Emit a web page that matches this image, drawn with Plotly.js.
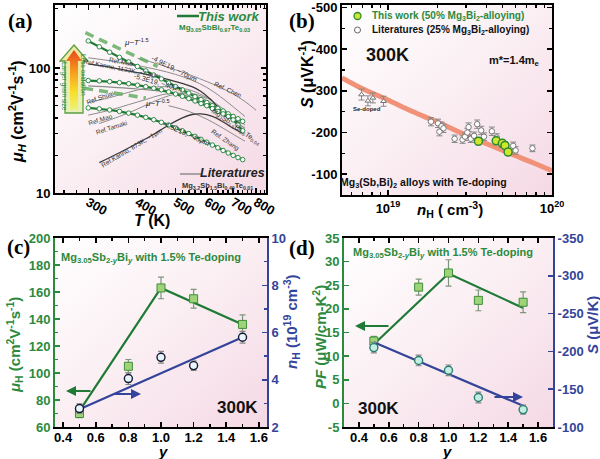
<!DOCTYPE html>
<html>
<head>
<meta charset="utf-8">
<script src="https://cdn.plot.ly/plotly-3.0.1.min.js"></script>
<style>
html,body{margin:0;padding:0;background:#fff;}
#chart{width:600px;height:459px;}
</style>
</head>
<body>
<div id="chart"></div>
<script>
// ---------------- Panel (a): mu_H vs T ----------------
const a_T = [300,320,340,360,380,400,420,440,460,480,500,520,540,560,580,600,620,640,660,680,700,720,740];
const a_mu_49E19 = [165,148,134,122,112,103,95,88,82,76,71,67,63,59,56,53,50,47.6,45.3,43,41,39.3,37.5];
const a_mu_53E19 = [79.5,79,78,76.5,75,73,71,69,67,64.5,62,59.5,57,54.5,52,50,47.5,45,43,41,38.5,35,31.5];
const a_mu_45E19 = [48,47.2,46.2,45,43.6,42,40.3,38.6,36.8,35,33.2,31.5,29.9,28.4,26.9,25.5,24.2,23,21.9,20.9,20,19.2,18.5];

const a_dash15_T = [295,450];
const a_dash15_mu = [192,103];
const a_dash05_T = [293,420];
const a_dash05_mu = [69,57.6];

const lit_mao1_T = [300,350,400,450,500,550,600,650,700,750];
const lit_mao1_mu = [121,113,105,97,89,80,70,59,49,41];
const lit_chen_T = [400,450,500,550,600,650,700,750,800];
const lit_chen_mu = [120,108,97,87,78,70,62,54,46];
const lit_kanno1123_T = [300,350,400,450,500,550,580,610,640,670,700,730];
const lit_kanno1123_mu = [108,100,92,85,78,71,65,57,49,43,39,36];
const lit_shuai_T = [300,340,380,420,460,500,550,600,650,700,750];
const lit_shuai_mu = [53,58,64,69,71,70,66,58,49,41,35];
const lit_mao2_T = [300,340,380,420,460,500,550,600,650,700];
const lit_mao2_mu = [42,46,51,56,61,63,61,55,47,39];
const lit_tamaki_T = [320,360,400,440,480,520,560,600];
const lit_tamaki_mu = [36,41,47,54,60,63,62,57];
const lit_kanno873_T = [320,360,400,440,480,520,550,580,620,660,700,740];
const lit_kanno873_mu = [17.5,21,25,29.5,35,40,42.5,43,41,37,33,30];
const lit_zhang_T = [480,540,600,660,720,750];
const lit_zhang_mu = [50,45,39,33,28,26];
const lit_mg32_T = [300,400,500,550,600,650,700,750];
const lit_mg32_mu = [72,68,63,58,52,45,38,33];

// ---------------- Panel (b): S vs n_H ----------------
const b_curve_n = [5.25e18,7e18,1e19,1.4e19,2e19,2.8e19,4e19,5.6e19,7.6e19,1e20];
const b_curve_S = [-331,-305,-278,-251,-225,-199,-173,-149,-128,-108];
const b_lit_n = [1.83e19,2.02e19,2.06e19,2.12e19,2.18e19,2.55e19,2.85e19,2.95e19,3.05e19,3.1e19,3.2e19,3.35e19,3.5e19,3.7e19,3.85e19,4.3e19,4.6e19,5.8e19,6.0e19,7.6e19];
const b_lit_S = [-226,-222,-202,-215,-210,-185,-183,-190,-200,-213,-185,-192,-220,-205,-190,-203,-188,-168,-157,-162];
const b_lit_err = [10,10,10,10,10,9,9,9,10,10,9,9,10,10,9,10,9,9,9,8];
const b_se_n = [6.9e18,7.55e18,8.1e18,9.4e18];
const b_se_S = [-291,-276,-283,-275];
const b_se_err = [13,12,12,12];
const b_tw_n = [3.56e19,4.57e19,4.98e19,5.17e19,5.4e19];
const b_tw_S = [-179,-180,-174,-169,-153];
const b_tw_err = [9,9,9,9,8];

// ---------------- Panels (c),(d): vs Bi content y ----------------
const y_bi = [0.5,0.8,1.0,1.2,1.5];
const c_mu = [70,105,163,155,136];
const c_mu_err = [3,5,8,7,7];
const c_nH = [2.78,4.05,4.95,4.6,5.8];
const c_nH_err = [0.2,0.25,0.25,0.2,0.25];
const c_mu_fit_y = [0.5,1.0,1.5];
const c_mu_fit = [72,163,136];
const c_nH_fit_y = [0.5,1.5];
const c_nH_fit = [2.75,5.8];

const d_PF = [13.2,24.6,27.6,21.8,21.4];
const d_PF_err = [1,1.7,2.8,2.2,2.2];
const d_S = [-205,-188,-175,-139,-123];
const d_S_err = [7,7,7,7,6];
const d_PF_fit_y = [0.5,1.0,1.5];
const d_PF_fit = [12.5,27.5,20.2];
const d_S_fit_y = [0.5,1.5];
const d_S_fit = [-212,-128];

// tick labels
const a_xticks = [300,400,500,600,700,800];
const a_yticks = [10,100];
const b_yticks = [-500,-400,-300,-200,-100];
const c_xticks = [0.4,0.6,0.8,1.0,1.2,1.4,1.6];
const c_yticks = [60,80,100,120,140,160,180,200];
const c_y2ticks = [2,4,6,8,10];
const d_yticks = [-5,0,5,10,15,20,25,30,35];
const d_y2ticks = [-100,-150,-200,-250,-300,-350];

// ---------------- styling ----------------
const FONT = 'Liberation Sans, Arial, sans-serif';
const SERIF = 'Liberation Serif, Times New Roman, serif';
const GREEN = '#1f7a35';
const GTXT = '#2b8a3e';
const BLUE = '#34449a';
const W = 600, H = 459;
const PX = p => p / W;
const PY = p => 1 - p / H;

const traces = [];
function litLine(T, mu, color, width) {
  traces.push({x: T, y: mu, xaxis: 'x', yaxis: 'y', mode: 'lines', line: {color: color, width: width, shape: 'spline'}, hoverinfo: 'skip'});
}
litLine(lit_mao1_T, lit_mao1_mu, '#8c8c8c', 1);
litLine(lit_chen_T, lit_chen_mu, '#8c8c8c', 1);
litLine(lit_shuai_T, lit_shuai_mu, '#8c8c8c', 1);
litLine(lit_mao2_T, lit_mao2_mu, '#8c8c8c', 1);
litLine(lit_tamaki_T, lit_tamaki_mu, '#8c8c8c', 1);
litLine(lit_zhang_T, lit_zhang_mu, '#8c8c8c', 1);
litLine(lit_mg32_T, lit_mg32_mu, '#8c8c8c', 1.2);
litLine(lit_kanno1123_T, lit_kanno1123_mu, '#3a3a3a', 1.3);
litLine(lit_kanno873_T, lit_kanno873_mu, '#3a3a3a', 1.3);

traces.push({x: a_dash15_T, y: a_dash15_mu, xaxis:'x', yaxis:'y', mode:'lines', line:{color:'rgba(90,170,90,0.8)', width:3.5, dash:'9px,6px'}});
traces.push({x: a_dash05_T, y: a_dash05_mu, xaxis:'x', yaxis:'y', mode:'lines', line:{color:'rgba(90,170,90,0.8)', width:3.5, dash:'9px,6px'}});

[a_mu_49E19, a_mu_53E19, a_mu_45E19].forEach(mu => {
  traces.push({x: a_T, y: mu, xaxis:'x', yaxis:'y', mode:'lines+markers',
    line:{color: GREEN, width: 2.2},
    marker:{symbol:'circle', size:4.5, color:'#ffffff', line:{color:'#2e8b45', width:1}}});
});

// panel b
traces.push({x: b_curve_n, y: b_curve_S, xaxis:'x2', yaxis:'y2', mode:'lines', line:{color:'rgb(240,145,120)', width:5, shape:'spline'}});
traces.push({x: b_se_n, y: b_se_S, xaxis:'x2', yaxis:'y2', mode:'markers',
  marker:{symbol:'triangle-up', size:5, color:'#ffffff', line:{color:'#777', width:1}},
  error_y:{type:'data', array:b_se_err, color:'#888', thickness:1, width:3}});
traces.push({x: b_lit_n, y: b_lit_S, xaxis:'x2', yaxis:'y2', mode:'markers',
  marker:{symbol:'circle', size:5.5, color:'#ffffff', line:{color:'#777', width:1}},
  error_y:{type:'data', array:b_lit_err, color:'#888', thickness:1, width:3}});
traces.push({x: b_tw_n, y: b_tw_S, xaxis:'x2', yaxis:'y2', mode:'markers',
  marker:{symbol:'circle', size:8, color:'#cde62e', line:{color:'#2f8a2f', width:1.5}},
  error_y:{type:'data', array:b_tw_err, color:'#888', thickness:1, width:3}});

// panel c
traces.push({x: c_mu_fit_y, y: c_mu_fit, xaxis:'x3', yaxis:'y3', mode:'lines', line:{color:GREEN, width:2.2}});
traces.push({x: c_nH_fit_y, y: c_nH_fit, xaxis:'x3', yaxis:'y4', mode:'lines', line:{color:BLUE, width:2.2}});
traces.push({x: y_bi, y: c_mu, xaxis:'x3', yaxis:'y3', mode:'markers',
  marker:{symbol:'square', size:8, color:'#9fd37a', line:{color:'#3f8f3a', width:1}},
  error_y:{type:'data', array:c_mu_err, color:'#7d957d', thickness:1.2, width:3}});
traces.push({x: y_bi, y: c_nH, xaxis:'x3', yaxis:'y4', mode:'markers',
  marker:{symbol:'circle', size:8, color:'#eaf5fb', line:{color:'#111a33', width:1.4}},
  error_y:{type:'data', array:c_nH_err, color:'#888', thickness:1.2, width:3}});

// panel d
traces.push({x: d_PF_fit_y, y: d_PF_fit, xaxis:'x4', yaxis:'y5', mode:'lines', line:{color:GREEN, width:2.2}});
traces.push({x: d_S_fit_y, y: d_S_fit, xaxis:'x4', yaxis:'y6', mode:'lines', line:{color:BLUE, width:2.2}});
traces.push({x: y_bi, y: d_PF, xaxis:'x4', yaxis:'y5', mode:'markers',
  marker:{symbol:'square', size:8, color:'#9fd37a', line:{color:'#3f8f3a', width:1}},
  error_y:{type:'data', array:d_PF_err, color:'#7d957d', thickness:1.2, width:3}});
traces.push({x: y_bi, y: d_S, xaxis:'x4', yaxis:'y6', mode:'markers',
  marker:{symbol:'circle', size:8, color:'#c4eee2', line:{color:'#2a7d72', width:1.4}},
  error_y:{type:'data', array:d_S_err, color:'#888', thickness:1.2, width:3}});

// ---------------- axes ----------------
const tf = (c) => ({family: FONT, size: 13, color: c || '#000', weight: 'bold'});
function baseAxis(extra) {
  return Object.assign({showgrid:false, zeroline:false, showline:true, linewidth:2, linecolor:'#000',
    ticks:'inside', ticklen:5, tickwidth:1.5, tickcolor:'#000', tickfont: tf(), automargin:false}, extra);
}
const aMinorX = []; for (let t = 260; t <= 840; t += 20) if (t % 100 !== 0) aMinorX.push(t);
const bMinorX = [6e18,7e18,8e18,9e18,2e19,3e19,4e19,5e19,6e19,7e19,8e19,9e19];

const layout = {
  width: W, height: H, margin:{l:0,r:0,t:0,b:0}, showlegend:false,
  paper_bgcolor:'#ffffff', plot_bgcolor:'rgba(0,0,0,0)',
  font:{family: FONT},
  xaxis: baseAxis({type:'log', domain:[PX(55),PX(266)], range:[Math.log10(247),Math.log10(848)], anchor:'y', mirror:'ticks',
    tickmode:'array', tickvals:a_xticks, ticktext:a_xticks.map(String), ticklabelstandoff:-5,
    minor:{tickmode:'array', tickvals:aMinorX, ticks:'inside', ticklen:3, tickcolor:'#000'}}),
  yaxis: baseAxis({type:'log', domain:[PY(193),PY(5)], range:[1,2.505], anchor:'x', mirror:'ticks',
    tickmode:'array', tickvals:a_yticks, ticktext:a_yticks.map(String),
    minor:{tickmode:'array', tickvals:[20,30,40,50,60,70,80,90,200,300], ticks:'inside', ticklen:3, tickcolor:'#000'}}),
  xaxis2: baseAxis({type:'log', domain:[PX(342),PX(552)], range:[18.72,20.0], anchor:'y2', mirror:'ticks',
    tickmode:'array', tickvals:[1e19,1e20], ticktext:['10<sup>19</sup>','10<sup>20</sup>'],
    minor:{tickmode:'array', tickvals:bMinorX, ticks:'inside', ticklen:3, tickcolor:'#000'}}),
  yaxis2: baseAxis({domain:[PY(195),PY(5)], range:[-50,-506], anchor:'x2', mirror:'ticks',
    tickmode:'array', tickvals:b_yticks, ticktext:b_yticks.map(String),
    minor:{tickmode:'array', tickvals:[-450,-350,-250,-150], ticks:'inside', ticklen:3, tickcolor:'#000'}}),
  xaxis3: baseAxis({domain:[PX(55),PX(267)], range:[0.35,1.65], anchor:'y3', mirror:'ticks',
    tickmode:'array', tickvals:c_xticks, ticktext:c_xticks.map(v=>v.toFixed(1)), ticklabelstandoff:-3,
    minor:{tickmode:'array', tickvals:[0.5,0.7,0.9,1.1,1.3,1.5], ticks:'inside', ticklen:3, tickcolor:'#000'}}),
  yaxis3: baseAxis({domain:[PY(427),PY(238)], range:[60,200], anchor:'x3', linecolor:GTXT, tickcolor:GTXT, tickfont: tf(GTXT),
    tickmode:'array', tickvals:c_yticks, ticktext:c_yticks.map(String),
    minor:{dtick:10, ticks:'inside', ticklen:3, tickcolor:GTXT}}),
  yaxis4: baseAxis({overlaying:'y3', side:'right', range:[2,10], anchor:'x3', linecolor:BLUE, tickcolor:BLUE, tickfont: tf(BLUE),
    tickmode:'array', tickvals:c_y2ticks, ticktext:c_y2ticks.map(String),
    minor:{dtick:1, ticks:'inside', ticklen:3, tickcolor:BLUE}}),
  xaxis4: baseAxis({domain:[PX(344),PX(553)], range:[0.3,1.7], anchor:'y5', mirror:'ticks',
    tickmode:'array', tickvals:c_xticks, ticktext:c_xticks.map(v=>v.toFixed(1)), ticklabelstandoff:-3,
    minor:{tickmode:'array', tickvals:[0.5,0.7,0.9,1.1,1.3,1.5], ticks:'inside', ticklen:3, tickcolor:'#000'}}),
  yaxis5: baseAxis({domain:[PY(427),PY(238)], range:[-5,35], anchor:'x4', linecolor:GTXT, tickcolor:GTXT, tickfont: tf(GTXT),
    tickmode:'array', tickvals:d_yticks, ticktext:d_yticks.map(String)}),
  yaxis6: baseAxis({overlaying:'y5', side:'right', range:[-100,-350], anchor:'x4', linecolor:BLUE, tickcolor:BLUE, tickfont: tf(BLUE),
    tickmode:'array', tickvals:d_y2ticks, ticktext:d_y2ticks.map(String)}),
};

// backgrounds (gradient) and arrow image
const bgSvg = '<svg xmlns="http://www.w3.org/2000/svg" viewBox="0 0 100 100" preserveAspectRatio="none"><defs><linearGradient id="g" x1="0" y1="0" x2="1" y2="1"><stop offset="0" stop-color="#ffffff"/><stop offset="0.45" stop-color="#fbf0f4"/><stop offset="1" stop-color="#f5d9e5"/></linearGradient></defs><rect width="100" height="100" fill="url(#g)"/></svg>';
const bgURI = 'data:image/svg+xml;charset=utf-8,' + encodeURIComponent(bgSvg);
const arrowSvg = '<svg xmlns="http://www.w3.org/2000/svg" viewBox="0 0 30 70" preserveAspectRatio="none"><defs>' +
  '<linearGradient id="o" x1="0" y1="0" x2="0" y2="1"><stop offset="0" stop-color="#f0e8a0"/><stop offset="1" stop-color="#e8f0b8"/></linearGradient>' +
  '<linearGradient id="i" x1="0" y1="0" x2="0" y2="1"><stop offset="0" stop-color="#e8481c"/><stop offset="0.35" stop-color="#f59a1e"/><stop offset="0.7" stop-color="#f7de2a"/><stop offset="1" stop-color="#eef27a"/></linearGradient></defs>' +
  '<polygon points="15,1 29,17 24,17 24,69 6,69 6,17 1,17" fill="url(#o)" stroke="#58a040" stroke-width="1.3"/>' +
  '<polygon points="15,6 23,17 19,17 19,66 11,66 11,17 7,17" fill="url(#i)"/></svg>';
const arrowURI = 'data:image/svg+xml;charset=utf-8,' + encodeURIComponent(arrowSvg);
const dom = [[55,266,5,193],[342,552,5,195],[55,267,238,427],[344,553,238,427]];
layout.images = dom.map(d => ({source: bgURI, xref:'paper', yref:'paper', x:PX(d[0]), y:PY(d[2]), sizex:(d[1]-d[0])/W, sizey:(d[3]-d[2])/H, sizing:'stretch', layer:'below', xanchor:'left', yanchor:'top'}));
layout.images.push({source: arrowURI, xref:'paper', yref:'paper', x:PX(59), y:PY(44), sizex:30/W, sizey:70/H, sizing:'stretch', layer:'above', xanchor:'left', yanchor:'top'});

// ---------------- annotations ----------------
const ann = [];
function T(px, py, text, size, color, opts) {
  const o = Object.assign({xref:'paper', yref:'paper', x:PX(px), y:PY(py), text:text, showarrow:false, xanchor:'center', yanchor:'middle',
    font:{family:FONT, size:size, color:color || '#000', weight:'bold'}}, opts || {});
  ann.push(o);
}
function Arrow(hx, hy, tx, ty, color) {
  ann.push({xref:'paper', yref:'paper', x:PX(hx), y:PY(hy), ax:tx-hx, ay:ty-hy, text:'', showarrow:true,
    arrowhead:2, arrowsize:1, arrowwidth:2, arrowcolor:color});
}
const thin = (s, c, ang) => ({textangle: ang || 0, font:{family:FONT, size:s, color:c}});

// axis titles
T(17, 112, '<i>μ</i><sub><i>H</i></sub> (cm<sup>2</sup>V<sup>-1</sup>s<sup>-1</sup>)', 16, '#000', {textangle:-90});
T(152, 220, '<i>T</i> (K)', 16, '#000');
T(306, 74, '<i>S</i> (μVK<sup>-1</sup>)', 16, '#000', {textangle:-90});
T(450, 210, '<i>n</i><sub>H</sub> ( cm<sup>-3</sup>)', 15, '#000');
T(14, 345, '<i>μ</i><sub>H</sub> (cm<sup>2</sup>V<sup>-1</sup>s<sup>-1</sup>)', 15, GTXT, {textangle:-90});
T(291, 322, '<i>n</i><sub>H</sub> (10<sup>19</sup> cm<sup>-3</sup>)', 15, BLUE, {textangle:-90});
T(163, 451, '<i>y</i>', 15, '#000');
T(319, 337, '<i>PF</i> (μW/cm-K<sup>2</sup>)', 15, GTXT, {textangle:-90});
T(592, 325, '<i>S</i> (μV/K)', 15, BLUE, {textangle:-90});
T(447, 451, '<i>y</i>', 15, '#000');

// panel labels
const lab = {font:{family:SERIF, size:21, color:'#000', weight:'bold'}};
T(20, 21, '(a)', 21, '#000', lab);
T(302, 21, '(b)', 21, '#000', lab);
T(18, 247, '(c)', 21, '#000', lab);
T(302, 248, '(d)', 21, '#000', lab);

// panel a texts
T(228, 16, 'This work', 13, GTXT, {font:{family:FONT, size:13, color:GTXT, weight:'bold', style:'italic'}});
T(214, 28, 'Mg<sub>3.05</sub>SbBi<sub>0.97</sub>Te<sub>0.03</sub>', 8, GTXT);
T(232, 173, 'Literatures', 12.5, '#222', {font:{family:FONT, size:12.5, color:'#222', weight:'bold', style:'italic'}});
T(217, 186, 'Mg<sub>3.2</sub>Sb<sub>1.5</sub>Bi<sub>0.49</sub>Te<sub>0.01</sub>', 7.5, '#333');
T(136, 42, '<i>μ</i>~<i>T</i><sup>-1.5</sup>', 8, '#222', thin(8, '#222'));
T(158, 103, '<i>μ</i>~<i>T</i><sup>-0.5</sup>', 8, '#222', thin(8, '#222'));
T(174, 69, '-4.9E19, ~70μm', 7, '#333', thin(7, '#333', 27));
T(158, 83, '-5.3E19, ~40μm', 7, '#333', thin(7, '#333', 16));
T(186, 134, '-4.5E19, ~40μm', 7, '#333', thin(7, '#333', 24));
T(121, 61, 'Ref.Mao', 6.5, '#333', thin(6.5, '#333', 10));
T(122, 69, 'Ref.Kanno, 1123K, ~7.8μm', 6.5, '#333', thin(6.5, '#333', 11));
T(100, 98, 'Ref.Shuai', 6.5, '#333', thin(6.5, '#333', -20));
T(100, 120, 'Ref.Mao', 6.5, '#333', thin(6.5, '#333', -18));
T(111, 127, 'Ref.Tamaki', 6.5, '#333', thin(6.5, '#333', -18));
T(132, 148, 'Ref.Kanno, 873K, ~1μm', 6.5, '#333', thin(6.5, '#333', -31));
T(228, 90, 'Ref. Chen', 6.5, '#333', thin(6.5, '#333', 25));
T(236, 127, 'Mg<sub>3</sub>Sb<sub>1.5</sub>Bi<sub>0.5</sub>Te<sub>0.04</sub>', 7, '#333', thin(7, '#333', 35));
T(225, 140, 'Ref. Zhang', 6.5, '#333', thin(6.5, '#333', 35));
T(64, 86, 'Larger grain size', 6.5, GTXT, thin(6.5, GTXT, 90));
T(83, 75, 'Less oxidation', 6.5, GTXT, thin(6.5, GTXT, 90));

// panel b texts
T(370, 16, 'This work (50% Mg<sub>3</sub>Bi<sub>2</sub>-alloying)', 10, GTXT, {xanchor:'left'});
T(370, 30, 'Literatures (25% Mg<sub>3</sub>Bi<sub>2</sub>-alloying)', 10, '#111', {xanchor:'left'});
T(387, 55, '300K', 18, '#111');
T(514, 61, 'm*=1.4m<sub>e</sub>', 11, '#111');
T(423, 183, 'Mg<sub>3</sub>(Sb,Bi)<sub>2</sub> alloys with Te-doping', 10.5, '#111');
T(367, 109, 'Se-doped', 6, '#222');

// panel c texts
T(151, 258, 'Mg<sub>3.05</sub>Sb<sub>2-<i>y</i></sub>Bi<sub><i>y</i></sub> with 1.5% Te-doping', 11, GTXT);
T(237, 407, '300K', 17, '#111');
Arrow(66, 391, 92, 391, GREEN);
Arrow(141, 394, 113, 394, BLUE);

// panel d texts
T(443, 253, 'Mg<sub>3.05</sub>Sb<sub>2-<i>y</i></sub>Bi<sub><i>y</i></sub> with 1.5% Te-doping', 11, GTXT);
T(378, 408, '300K', 17, '#111');
Arrow(355, 326, 390, 326, GREEN);
Arrow(523, 397, 493, 397, BLUE);

layout.annotations = ann;

// legend-like shapes
layout.shapes = [
  {type:'line', xref:'paper', yref:'paper', x0:PX(177), x1:PX(199), y0:PY(16), y1:PY(16), line:{color:GREEN, width:2.5}},
  {type:'line', xref:'paper', yref:'paper', x0:PX(180), x1:PX(201), y0:PY(174), y1:PY(174), line:{color:'#8c8c8c', width:1.5}},
  {type:'circle', xref:'paper', yref:'paper', x0:PX(354), x1:PX(361), y0:PY(19.5), y1:PY(12.5), fillcolor:'#cde62e', line:{color:'#2f8a2f', width:1.3}},
  {type:'circle', xref:'paper', yref:'paper', x0:PX(354.5), x1:PX(360.5), y0:PY(33), y1:PY(27), fillcolor:'#ffffff', line:{color:'#666', width:1}}
];

Plotly.newPlot('chart', traces, layout, {staticPlot:true, displayModeBar:false});
</script>
</body>
</html>
